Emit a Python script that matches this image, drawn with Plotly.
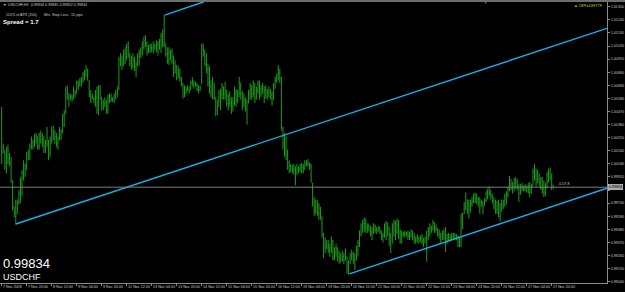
import plotly.graph_objects as go

# ---------------- data (USDCHF H1, prices in pips: 10128 -> 1.0128) ----------------
open_first = 10045
hi_pips = [
    10051,10020,10014,10017,10019,10012,10009,9989,9967,9973,                 # 0-9
    9973,9981,9992,9998,10006,10003,10013,10015,10020,10026,10023,            # 10-20
    10028,10029,10026,10029,10031,10029,10026,10023,10034,10023,10026,        # 21-31
    10034,10035,10031,10029,10026,10034,10032,10045,10048,10068,10069,        # 32-42
    10062,10062,10061,10068,10065,10073,10073,10075,10076,10080,              # 43-52
    10082,10086,10083,10073,10065,10062,10059,10065,10068,10069,10069,        # 53-63
    10059,10057,10059,10057,10061,10062,10062,10059,10062,10065,              # 64-73
    10068,10093,10096,10094,10099,10101,10104,10106,10096,10094,10096,        # 74-84
    10093,10089,10096,10099,10101,10106,10110,10111,10106,10103,10104,        # 85-95
    10104,10106,10104,10107,10106,10108,10113,10116,10128,                    # 96-104
    10104,10101,10101,10099,10100,10094,10090,10086,10085,10083,10076,10071,  # 105-116
    10069,10068,10069,10068,10073,10076,10073,10072,10071,10069,10069,        # 117-127
    10104,10104,10099,10096,10087,10085,10073,10076,10071,10059,10057,        # 128-138
    10065,10066,10071,10068,10072,10065,10062,10064,10059,10059,              # 139-148
    10068,10066,10065,10076,10071,10064,10062,10059,10057,10065,10071,        # 149-159
    10069,10073,10071,10068,10073,10073,10069,10071,10068,10069,10066,        # 160-170
    10068,10066,10064,10071,10076,10079,10086,10083,10076,10034,              # 171-180
    10029,10026,10015,10006,10003,10002,10003,10001,10003,10001,10003,10004,10003,10006,  # 181-194
    10006,10007,10004,10003,9987,9975,9973,9973,9970,9967,9959,9945,9941,9939,9939,9936,
    9942,9939,9933,9936,9933,9930,9928,9930,9928,9932,9925,9922,9928,9931,9929,9928,
    9934,9939,9947,9953,9956,9958,                                            # 195-232
    9957,9953,9953,9951,9950,9953,9952,9950,9951,9950,9947,9945,9953,9955,9954,9950,
    9945,9953,9956,9955,9957,9956,9948,9947,9946,9947,9946,9947,9946,9948,9947,9945,
    9942,9944,9942,9943,9944,9941,9942,9947,9950,9953,9951,9956,9954,9952,9949,9948,
    9945,9947,9948,9950,9944,9945,9944,9945,9945,9945,9944,9943,9941,          # 233-293
    9961,9962,9971,9979,9973,9973,9973,9975,9978,9979,9978,9975,9975,9973,9972,9974,
    9980,9982,9984,9981,9978,9975,9973,9972,9973,9970,9973,9973,9978,9980,9984,9993,
    9990,9988,9991,9992,9990,9986,9986,9987,9985,9986,9985,9987,9988,9986,9999,10003,
    9999,9998,9995,9992,9992,9989,9987,9996,9999,10000,9995,9985,              # 294-353
]
lo_pips = [
    10003,10012,9998,9995,10003,10001,9987,9964,9958,9952,
    9961,9969,9970,9976,9989,9992,9998,10006,10006,10015,10015,
    10017,10020,10015,10015,10020,10017,10012,10012,10017,10006,10009,
    10020,10023,10020,10017,10015,10023,10023,10029,10034,10045,10057,
    10051,10057,10055,10057,10059,10062,10065,10068,10068,10071,
    10073,10076,10073,10059,10054,10057,10054,10051,10045,10044,10057,
    10048,10048,10051,10045,10045,10054,10055,10055,10054,10057,
    10059,10065,10085,10082,10085,10087,10090,10092,10085,10082,10083,
    10081,10076,10085,10086,10092,10094,10099,10101,10094,10096,10096,
    10097,10096,10099,10097,10094,10099,10096,10101,10101,
    10093,10087,10086,10090,10087,10076,10079,10073,10075,10072,10068,10058,
    10059,10062,10064,10062,10065,10068,10066,10068,10064,10062,10064,
    10070,10093,10085,10079,10068,10062,10059,10057,10057,10043,10044,
    10051,10048,10057,10057,10057,10051,10048,10051,10045,10047,
    10052,10051,10054,10059,10057,10048,10051,10047,10036,10054,10057,
    10057,10059,10054,10057,10062,10057,10059,10062,10054,10058,10057,
    10059,10057,10052,10057,10066,10071,10073,10071,10031,10015,
    10009,10006,9998,9995,9996,9995,9994,9985,9994,9995,9996,9995,9995,9998,
    10001,10001,9998,9987,9967,9959,9961,9959,9956,9956,9941,9924,9928,9931,9928,9925,
    9928,9922,9922,9925,9921,9919,9920,9921,9919,9922,9911,9910,9919,9922,9919,9914,
    9922,9925,9933,9942,9945,9946,
    9945,9945,9946,9942,9939,9944,9945,9944,9946,9944,9939,9937,9941,9939,9942,9934,
    9928,9936,9942,9939,9944,9940,9936,9936,9942,9941,9942,9939,9939,9941,9939,9936,
    9936,9937,9936,9937,9935,9933,9936,9921,9939,9942,9945,9947,9945,9946,9942,9940,
    9936,9939,9939,9929,9936,9938,9938,9939,9939,9940,9939,9933,9933,
    9933,9948,9961,9964,9961,9957,9962,9967,9970,9970,9969,9967,9961,9967,9961,9968,
    9971,9973,9976,9973,9970,9965,9961,9961,9958,9955,9963,9965,9967,9969,9975,9980,
    9981,9978,9980,9982,9981,9971,9977,9980,9980,9980,9979,9978,9975,9978,9984,9989,
    9984,9987,9984,9981,9978,9975,9976,9982,9987,9989,9981,9982,
]
cl_pips = [
    10012,10015,10003,10009,10014,10004,9990,9968,9962,9960,
    9970,9978,9989,9995,10003,9998,10009,10012,10017,10023,10020,
    10023,10026,10018,10026,10023,10026,10017,10020,10023,10012,10023,
    10029,10031,10026,10020,10023,10031,10029,10043,10045,10065,10062,
    10057,10059,10058,10065,10062,10071,10069,10071,10073,10078,
    10079,10082,10076,10062,10059,10059,10057,10059,10052,10065,10062,
    10054,10051,10054,10048,10057,10059,10057,10057,10059,10062,
    10065,10090,10090,10087,10096,10093,10101,10099,10087,10085,10090,
    10085,10082,10093,10096,10099,10101,10106,10104,10099,10099,10101,
    10101,10099,10102,10104,10097,10106,10110,10104,10104,
    10096,10090,10096,10093,10090,10079,10085,10076,10079,10075,10071,10062,
    10062,10065,10066,10064,10071,10073,10070,10069,10066,10065,10067,
    10099,10096,10087,10082,10071,10068,10062,10065,10059,10048,10051,
    10059,10062,10068,10062,10065,10054,10057,10054,10051,10054,
    10062,10057,10062,10071,10062,10051,10057,10051,10043,10062,10065,
    10062,10068,10059,10064,10069,10062,10066,10068,10059,10065,10062,
    10064,10061,10055,10068,10073,10076,10079,10075,10035,10020,
    10015,10012,10001,9998,10001,9998,9999,9992,9998,9999,10001,10000,9998,10003,
    10004,10003,10001,9990,9970,9964,9967,9962,9961,9959,9944,9933,9936,9934,9931,9930,
    9938,9925,9928,9931,9925,9924,9922,9925,9922,9928,9914,9919,9925,9928,9922,9917,
    9931,9936,9944,9950,9953,9950,
    9948,9950,9948,9945,9947,9950,9948,9947,9949,9946,9942,9943,9950,9947,9950,9938,
    9942,9947,9953,9947,9952,9945,9944,9942,9944,9945,9944,9942,9944,9946,9942,9939,
    9939,9941,9939,9940,9938,9938,9940,9936,9947,9950,9948,9953,9949,9948,9945,9943,
    9939,9944,9942,9935,9940,9941,9941,9942,9943,9942,9941,9937,9939,
    9956,9959,9967,9976,9964,9967,9970,9972,9975,9976,9973,9971,9966,9970,9967,9972,
    9978,9979,9978,9976,9972,9968,9965,9968,9962,9964,9970,9968,9975,9977,9981,9990,
    9986,9984,9987,9989,9984,9978,9983,9983,9982,9984,9981,9984,9979,9983,9996,9992,
    9987,9990,9987,9984,9982,9979,9984,9993,9995,9992,9986,9983,
]
assert len(hi_pips) == len(lo_pips) == len(cl_pips) == 354, (len(hi_pips), len(lo_pips), len(cl_pips))

bid_price = 0.99834
# time-axis labels (every 16th H1 bar) and their bar numbers
tick_bars = [0, 16, 32, 48, 64, 80, 96, 112, 128, 144, 160, 176, 192, 208, 224, 240,
             256, 272, 288, 304, 320, 336, 352]
tick_labels = ["7 Nov 2018", "7 Nov 20:00", "8 Nov 12:00", "9 Nov 04:00", "9 Nov 20:00",
               "12 Nov 12:00", "13 Nov 04:00", "13 Nov 20:00", "14 Nov 12:00", "15 Nov 04:00",
               "15 Nov 20:00", "16 Nov 12:00", "19 Nov 04:00", "19 Nov 20:00", "20 Nov 12:00",
               "21 Nov 04:00", "21 Nov 20:00", "22 Nov 12:00", "23 Nov 04:00", "23 Nov 20:00",
               "26 Nov 12:00", "27 Nov 04:00", "27 Nov 20:00"]
# price-axis labels
price_ticks = [1.01350, 1.01240, 1.01130, 1.01020, 1.00910, 1.00800, 1.00690, 1.00580,
               1.00470, 1.00360, 1.00250, 1.00140, 1.00030, 0.99920, 0.99810, 0.99700,
               0.99590, 0.99480, 0.99370, 0.99260, 0.99150, 0.99040]
price_labels = ["%.5f" % v for v in price_ticks]
price_labels[14] = ""   # hidden behind the bid price box
# channel lines: (bar, price) end points
chan_mid_x, chan_mid_y = [9, 387.4], [0.99525, 1.01169]
chan_up_x, chan_up_y = [104.3, 129.5], [1.01280, 1.01392]
chan_lo_x, chan_lo_y = [222.5, 387.4], [0.99105, 0.99825]

# ---------------- figure ----------------
W, H = 625, 292
ML, MR, MT, MB = 0, 18, 2, 9
GREEN = "#1c9c1c"
CYAN = "#12b4ec"
GRAY = "#8a8a8a"
TXT = "#c8c8c8"
FONT = "Liberation Sans, Arial, sans-serif"

bars = list(range(len(cl_pips)))
hi = [v / 10000 for v in hi_pips]
lo = [v / 10000 for v in lo_pips]
cl = [v / 10000 for v in cl_pips]
prev = [open_first / 10000] + cl[:-1]
op = [min(max(p, l), h) for p, l, h in zip(prev, lo, hi)]

fig = go.Figure()
fig.add_trace(go.Ohlc(x=bars, open=op, high=hi, low=lo, close=cl,
                      increasing=dict(line=dict(color=GREEN, width=1)),
                      decreasing=dict(line=dict(color=GREEN, width=1)),
                      tickwidth=0.3, hoverinfo="skip", showlegend=False))
for xs, ys in [(chan_mid_x, chan_mid_y), (chan_up_x, chan_up_y), (chan_lo_x, chan_lo_y)]:
    fig.add_trace(go.Scatter(x=xs, y=ys, mode="lines", line=dict(color=CYAN, width=1.4),
                             hoverinfo="skip", showlegend=False))

fig.update_layout(
    width=W, height=H, margin=dict(l=ML, r=MR, t=MT, b=MB),
    paper_bgcolor="#000000", plot_bgcolor="#000000",
    font=dict(family=FONT, color=TXT, size=4),
    showlegend=False,
    xaxis=dict(range=[-1.09, 387.4], showgrid=False, zeroline=False,
               rangeslider=dict(visible=False),
               showline=True, mirror=True, linecolor=GRAY, linewidth=1,
               tickmode="array", tickvals=tick_bars, showticklabels=False,
               ticks="outside", ticklen=2, tickcolor=GRAY, fixedrange=True),
    yaxis=dict(range=[0.99029, 1.01390], side="right", showgrid=False, zeroline=False,
               showline=True, linecolor=GRAY, linewidth=1,
               tickmode="array", tickvals=price_ticks, ticktext=price_labels,
               ticks="outside", ticklen=2, tickcolor=GRAY,
               tickfont=dict(size=3.7, color=TXT, family=FONT), fixedrange=True),
)

# bid line
fig.add_shape(type="line", xref="paper", yref="y", x0=0, x1=1, y0=bid_price, y1=bid_price,
              line=dict(color="#7d7d7d", width=1))
# top window border
fig.add_shape(type="rect", xref="paper", yref="paper", x0=0, x1=W / (W - ML - MR),
              y0=1, y1=1 + MT / (H - MT - MB), fillcolor="#6e6e6e", line=dict(width=0))

# time labels
for b, t in zip(tick_bars, tick_labels):
    fig.add_annotation(x=b, y=0, xref="x", yref="paper", text=t, showarrow=False,
                       xanchor="left", yanchor="top", xshift=-1, yshift=0,
                       font=dict(size=3.7, color=TXT, family=FONT))

# bid price box on the axis
fig.add_annotation(x=1, y=bid_price, xref="paper", yref="y", text="%.5f" % bid_price,
                   showarrow=False, xanchor="left", yanchor="middle", xshift=1,
                   bgcolor="#a8a8a8", bordercolor="#d8d8d8", borderwidth=0.5, borderpad=0.5,
                   font=dict(size=3.7, color="#000000", family=FONT))


def ptext(txt, px, py, size, color=TXT, xanchor="left", bold=False):
    fig.add_annotation(text=("<b>%s</b>" % txt) if bold else txt, xref="paper", yref="paper",
                       x=0, y=1, xshift=px, yshift=-(py - MT), xanchor=xanchor,
                       yanchor="middle", showarrow=False, borderpad=0,
                       font=dict(size=size, color=color, family=FONT))


ptext("▼", 1.5, 5, 3.5)
ptext("USDCHF,H1  0.99834 0.99845 0.99822 0.99834", 6.5, 5, 3.7)
ptext("110% of ATR (200)", 4.5, 14.5, 3.7)
ptext("Min. Stop Loss:", 43, 14.5, 3.7)
ptext("15 pips", 70, 14.5, 3.7)
ptext("Spread = 1.7", 2.2, 21.7, 6, color="#ffffff", bold=True)
ptext("0.99834", 2, 263.5, 13, color="#ffffff")
ptext("USDCHF", 2.2, 277, 9, color="#ffffff")
ptext("▲ CEP=10HTTF", 604, 6, 3.7, color="#d4d400", xanchor="right")
ptext("-0.57.8", 557, 183.5, 3.7)
ptext("▼", 485, 2.8, 3, color="#9a9a9a", xanchor="center")

fig.write_html("out.html", config=dict(displayModeBar=False, staticPlot=True))
